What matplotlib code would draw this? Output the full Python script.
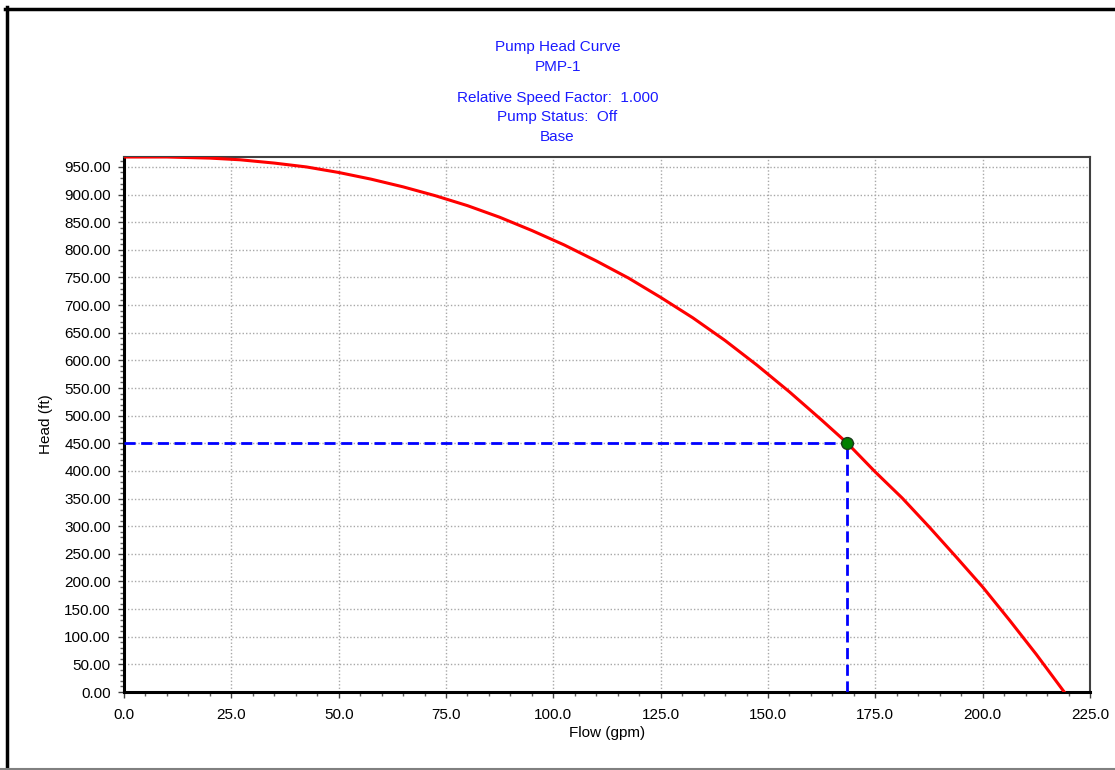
import numpy as np
import matplotlib
matplotlib.use('Agg')
import matplotlib.pyplot as plt
from matplotlib.lines import Line2D
from matplotlib.ticker import MultipleLocator, FormatStrFormatter

plt.rcParams['font.family'] = ['Liberation Sans', 'DejaVu Sans']

# pump curve
flow = [0.0, 10.0, 20.0, 27.0, 35.0, 42.5, 50.0, 57.5, 65.0, 72.5, 80.0,
        87.5, 95.0, 102.5, 110.0, 117.5, 125.0, 132.5, 140.0, 147.5, 155.0,
        162.5, 168.5, 175.0, 181.25, 187.5, 193.75, 200.0, 206.25, 212.5, 219.0]
head = [968, 968, 966, 963, 957, 950, 940, 928, 914, 898, 880,
        859, 835, 809, 780, 749, 714, 677, 636, 591, 543,
        492, 450, 398, 351, 299, 245, 190, 130, 68, 0]

# operating point
op_flow = 168.5
op_head = 450.0

title_lines = ['Pump Head Curve', 'PMP-1']
info_lines = ['Relative Speed Factor:  1.000', 'Pump Status:  Off', 'Base']

W, H = 1115, 770
fs = 11
fig = plt.figure(figsize=(W / 100., H / 100.), dpi=100)
fig.patch.set_facecolor('white')
ax = fig.add_axes([124. / W, 1 - 692. / H, (1090. - 124.) / W, (692. - 157.) / H])

ax.plot(flow, head, color='#ff0000', lw=2.2, zorder=3)
ax.plot([0, op_flow], [op_head, op_head], color='#0000ff', lw=2.0,
        dashes=(4, 2), zorder=4)
ax.plot([op_flow, op_flow], [0, op_head], color='#0000ff', lw=2.0,
        dashes=(4, 2), zorder=4)
ax.plot([op_flow], [op_head], 'o', color='#008000', mec='#1a3a1a', mew=1.0,
        ms=8.5, zorder=5)

ax.set_xlim(0, 225)
ax.set_ylim(0, 968)
ax.xaxis.set_major_locator(MultipleLocator(25))
ax.xaxis.set_minor_locator(MultipleLocator(5))
ax.yaxis.set_major_locator(MultipleLocator(50))
ax.yaxis.set_minor_locator(MultipleLocator(10))
ax.xaxis.set_major_formatter(FormatStrFormatter('%.1f'))
ax.yaxis.set_major_formatter(FormatStrFormatter('%.2f'))

ax.grid(True, which='major', color='#a8a8a8', linestyle=(0, (1, 1.5)), lw=1.0)
ax.tick_params(which='major', direction='out', length=4.5, width=1,
               color='#404040', labelsize=fs, pad=5)
ax.tick_params(axis='x', which='major', pad=7)
ax.tick_params(which='minor', direction='out', length=3, width=1,
               color='#606060')

for side in ['left', 'bottom']:
    ax.spines[side].set_linewidth(2.2)
    ax.spines[side].set_color('black')
for side in ['top', 'right']:
    ax.spines[side].set_linewidth(1.5)
    ax.spines[side].set_color('#404040')

ax.set_xlabel('Flow (gpm)', fontsize=fs, labelpad=3)
ax.set_ylabel('Head (ft)', fontsize=fs, labelpad=8)

# titles
for i, t in enumerate(title_lines):
    fig.text(0.5, 1 - (47 + 20 * i) / float(H), t, color='#1a1aff',
             fontsize=fs, ha='center', va='center')
for i, t in enumerate(info_lines):
    fig.text(0.5, 1 - (98 + 19.5 * i) / float(H), t, color='#1a1aff',
             fontsize=fs, ha='center', va='center')

# window frame
fig.add_artist(Line2D([6.5 / W, 6.5 / W], [0, 1 - 7. / H], color='black', lw=2.5))
fig.add_artist(Line2D([5. / W, 1], [1 - 8.5 / H, 1 - 8.5 / H], color='black', lw=2.5))
fig.add_artist(Line2D([0, 1], [1.5 / H, 1.5 / H], color='#808080', lw=1.5))

plt.savefig('out.png', dpi=100)
